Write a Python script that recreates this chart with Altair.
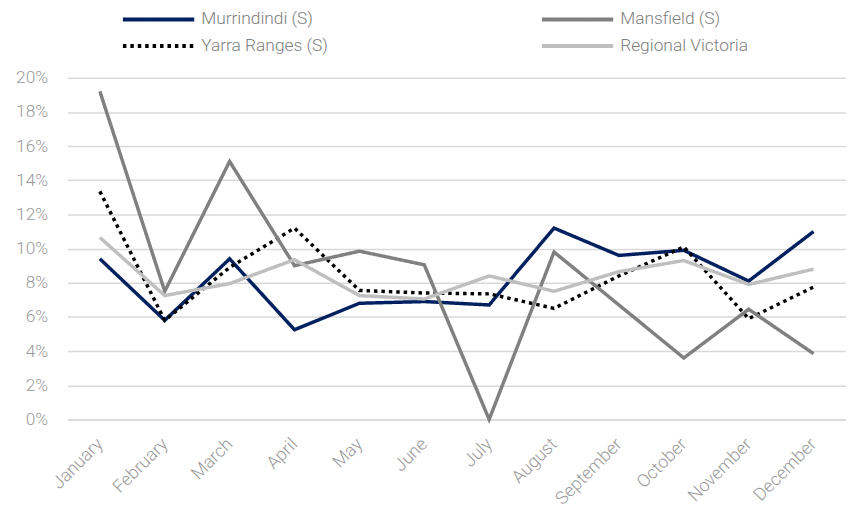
import altair as alt
import pandas as pd

months = ["January", "February", "March", "April", "May", "June", "July",
          "August", "September", "October", "November", "December"]
# order chosen so that the two-column legend reads row by row like the reference
series = ["Murrindindi (S)", "Yarra Ranges (S)", "Mansfield (S)", "Regional Victoria"]
murrindindi = [9.4, 5.8, 9.4, 5.25, 6.8, 6.9, 6.7, 11.2, 9.6, 9.9, 8.1, 11.0]
yarra = [13.35, 5.8, 8.9, 11.2, 7.55, 7.4, 7.35, 6.5, 8.4, 10.1, 5.9, 7.75]
mansfield = [19.2, 7.5, 15.1, 9.0, 9.85, 9.05, 0.0, 9.8, 6.7, 3.6, 6.45, 3.85]
regional = [10.65, 7.25, 7.95, 9.35, 7.25, 7.05, 8.4, 7.5, 8.65, 9.3, 7.9, 8.8]
colors = ["#002060", "#000000", "#808080", "#bfbfbf"]
dashes = [[1, 0], [3.5, 4], [1, 0], [1, 0]]
draw_order = [4, 2, 3, 1]

rows = []
for name, vals, o in zip(series, [murrindindi, yarra, mansfield, regional], draw_order):
    for m, v in zip(months, vals):
        rows.append({"month": m, "series": name, "value": v / 100, "ord": o})
df = pd.DataFrame(rows)

font = "Roboto"
fs = 17.5

chart = alt.Chart(df).mark_line(strokeWidth=3.5, strokeCap="butt", strokeJoin="miter").encode(
    x=alt.X("month:N", sort=months, title=None,
            scale=alt.Scale(type="point", padding=0.5),
            axis=alt.Axis(labelAngle=-45, labelAlign="right", labelBaseline="middle",
                          ticks=False, grid=False, domain=True, domainColor="#d9d9d9",
                          domainWidth=1.5, labelPadding=22, labelFontSize=18,
                          labelFont=font, labelFontWeight=300, labelColor="#9a9a9a")),
    y=alt.Y("value:Q", title=None,
            scale=alt.Scale(domain=[0, 0.2], nice=False),
            axis=alt.Axis(values=[i / 100 for i in range(0, 21, 2)], format=".0%",
                          ticks=False, domain=False, grid=True, gridColor="#d9d9d9",
                          gridWidth=1.5, labelPadding=20, labelFontSize=fs,
                          labelFont=font, labelFontWeight=300, labelColor="#9a9a9a")),
    color=alt.Color("series:N", title=None,
                    scale=alt.Scale(domain=series, range=colors)),
    strokeDash=alt.StrokeDash("series:N", title=None,
                              scale=alt.Scale(domain=series, range=dashes)),
    detail="ord:O",
).properties(
    width=786, height=345,
    autosize=alt.AutoSizeParams(type="none"),
    padding={"left": 60, "top": 68, "right": 0, "bottom": 87},
).configure_view(stroke=None).configure_legend(
    orient="none", legendX=78, legendY=-73, columns=2,
    symbolType="M-3,0H3", symbolSize=576, symbolStrokeWidth=4,
    labelFont=font, labelFontWeight=300, labelFontSize=fs, labelColor="#808080",
    labelOffset=29, columnPadding=207, rowPadding=4, labelLimit=300,
)

chart.save("out.html", embed_options={"renderer": "svg", "actions": False})
